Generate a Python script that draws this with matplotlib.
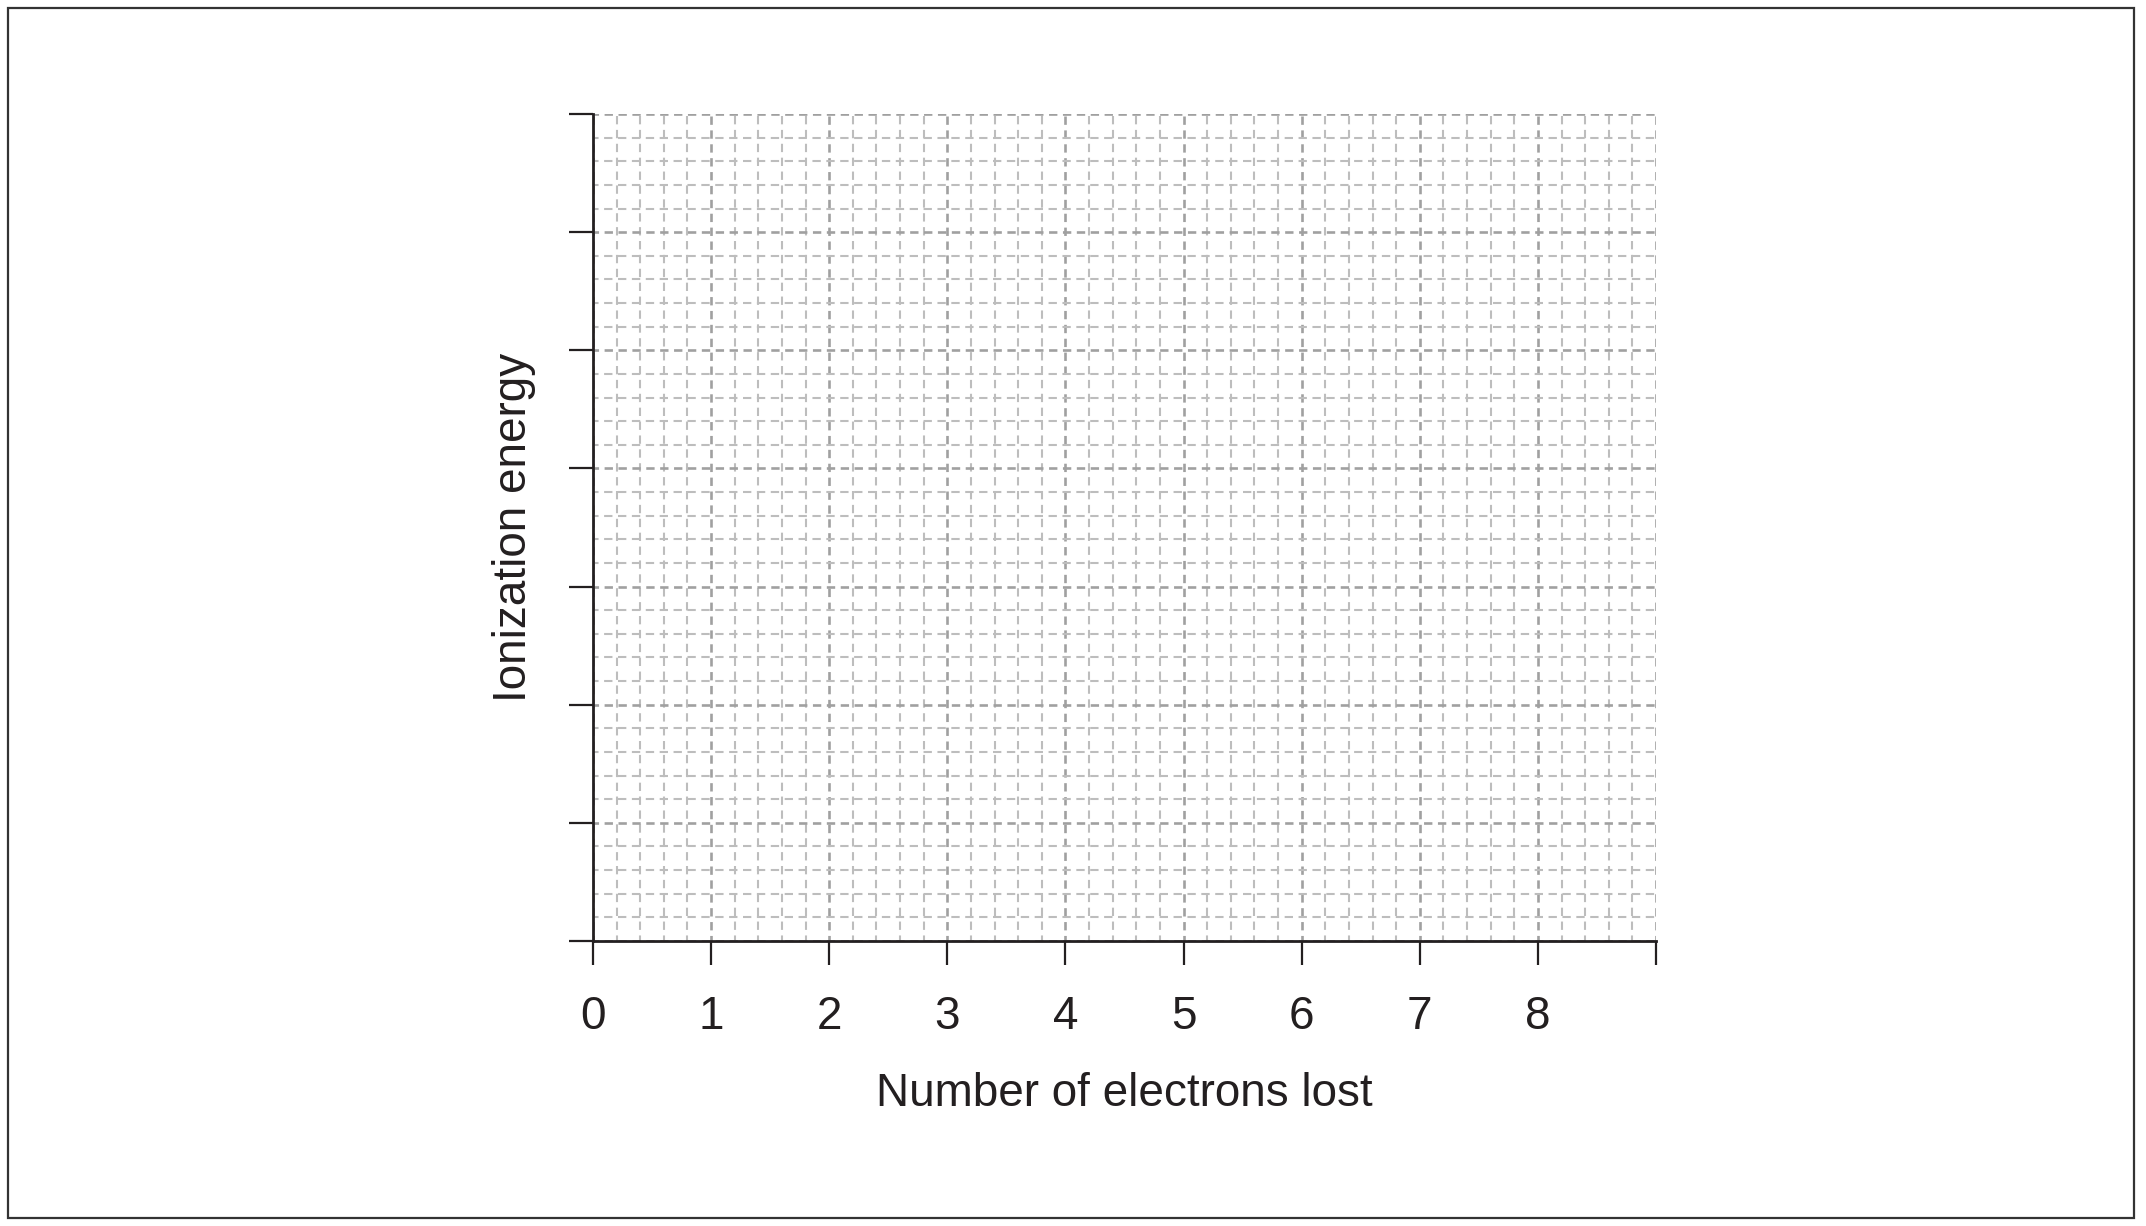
import numpy as np
import matplotlib.pyplot as plt
from matplotlib.patches import Rectangle

# --- Datos del gráfico (plantilla vacía) ---
x_ticks = [0, 1, 2, 3, 4, 5, 6, 7, 8, 9]
x_tick_labels = ["0", "1", "2", "3", "4", "5", "6", "7", "8", ""]
y_ticks = [0, 1, 2, 3, 4, 5, 6, 7]
x_minor = np.arange(0, 9.01, 0.2)
y_minor = np.arange(0, 7.01, 0.2)
x_label = "Number of electrons lost"
y_label = "Ionization energy"

plt.rcParams['font.family'] = ['Liberation Sans', 'DejaVu Sans']
plt.rcParams['lines.scale_dashes'] = False
text_color = "#231f20"

fig = plt.figure(figsize=(21.46, 12.26), dpi=100)
ax = fig.add_axes([593/2146, 285/1226, (1656-593)/2146, (1112-285)/1226])

ax.set_xlim(x_ticks[0], x_ticks[-1])
ax.set_ylim(y_ticks[0], y_ticks[-1])

# --- Rejilla discontinua ---
for xv in x_minor:
    major = abs(xv - round(xv)) < 1e-6
    ax.axvline(xv, color="#a0a0a0" if major else "#bdbdbd", lw=1.9 if major else 1.5,
               linestyle=(2, (6, 4)), zorder=0)
for yv in y_minor:
    major = abs(yv - round(yv)) < 1e-6
    ax.axhline(yv, color="#a0a0a0" if major else "#bdbdbd", lw=1.9 if major else 1.5,
               linestyle=(2, (6, 4)), zorder=0)

ax.set_xticks(x_ticks)
ax.set_xticklabels(x_tick_labels)
ax.set_yticks(y_ticks)
ax.set_yticklabels([])

for s in ["top", "right"]:
    ax.spines[s].set_visible(False)
for s in ["left", "bottom"]:
    ax.spines[s].set_linewidth(2.0)
    ax.spines[s].set_color(text_color)
    ax.spines[s].set_zorder(3)

ax.tick_params(axis="both", direction="out", length=17, width=1.6, colors=text_color,
               labelsize=33, pad=22)
ax.tick_params(axis="x", labelcolor=text_color)

ax.set_xlabel(x_label, fontsize=33, color=text_color, labelpad=24)
ax.set_ylabel(y_label, fontsize=33, color=text_color, labelpad=2)

# --- Marco exterior ---
fig.patches.append(Rectangle((8/2146, 8/1226), (2134-8)/2146, (1218-8)/1226,
                             transform=fig.transFigure, fill=False,
                             edgecolor="#333333", lw=1.6))

fig.savefig("out.png", dpi=100)
